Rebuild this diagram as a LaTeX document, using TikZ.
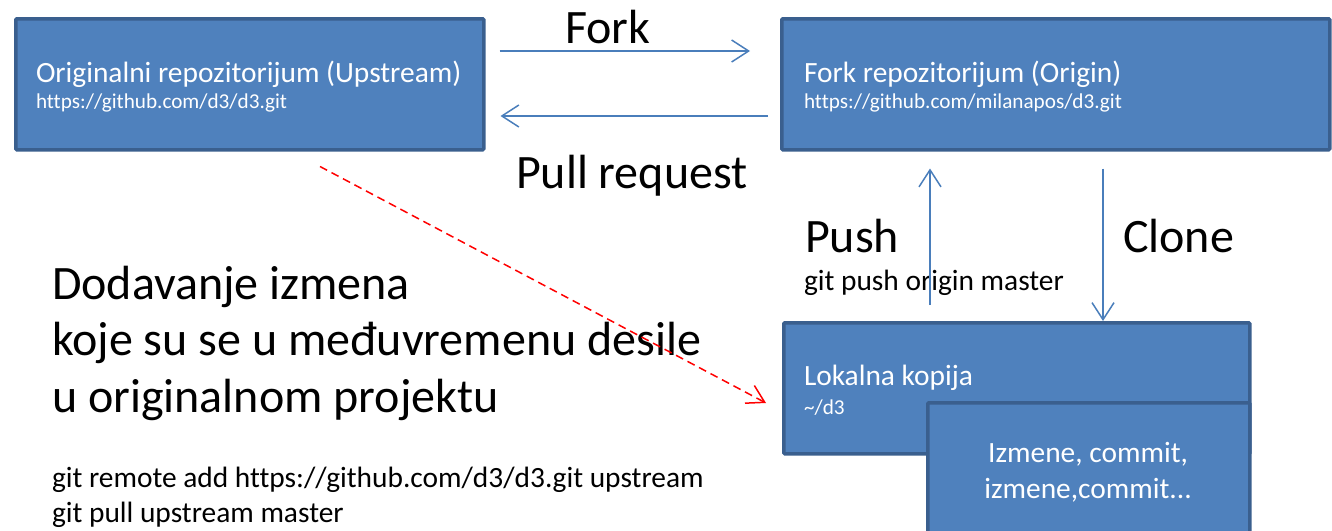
\documentclass[tikz,border=0pt]{standalone}
\usepackage{fontspec}
\setmainfont{Carlito}[Ligatures=NoCommon]
\usetikzlibrary{arrows.meta,calc}
\definecolor{boxfill}{HTML}{4F81BD}
\definecolor{boxline}{HTML}{3A5F8E}
\definecolor{arrblue}{HTML}{4A7EBB}
\tikzset{
  box/.style={draw=boxline, fill=boxfill, line width=3.5pt, rounded corners=1pt, rectangle, anchor=north west, inner sep=0pt},
  txt/.style={anchor=base west, inner sep=0pt, outer sep=0pt},
  wtxt/.style={txt, text=white},
  big/.style={font=\fontsize{48}{56}\selectfont},
  mid/.style={font=\fontsize{29.4}{36}\selectfont},
  small/.style={font=\fontsize{21.2}{25}\selectfont},
  arr/.style={draw=arrblue, line width=1.5pt, -{Straight Barb[length=17pt,width=22pt,line width=1.5pt]}},
  redarr/.style={draw=red, line width=1.5pt, dash pattern=on 8pt off 5pt, -{Straight Barb[length=17pt,width=20pt,line width=1.5pt]}}
}
\begin{document}
\begin{tikzpicture}[x=1pt,y=-1pt]
\useasboundingbox (0,0) rectangle (1332,530);
\clip (0,0) rectangle (1332,530);
% boxes
\node[box, minimum width=468pt, minimum height=131pt] (up) at (14,17) {};
\node[box, minimum width=548pt, minimum height=131pt] (org) at (780,17) {};
\node[box, minimum width=466pt, minimum height=131pt] (loc) at (782,321) {};
\node[box, minimum width=322pt, minimum height=150pt] (chg) at (926,401) {};
% box texts
\node[wtxt, mid] (uptitle) at (36,82) {Originalni repozitorijum (Upstream)};
\node[wtxt, small] (upurl) at (36,108) {https://github.com/d3/d3.git};
\node[wtxt, mid] (orgtitle) at (804,82) {Fork repozitorijum (Origin)};
\node[wtxt, small] (orgurl) at (804,108) {https://github.com/milanapos/d3.git};
\node[wtxt, mid] (loctitle) at (804,385) {Lokalna kopija};
\node[wtxt, small] (locpath) at (804,414) {\textasciitilde/d3};
\node[anchor=base, inner sep=0pt, text=white, mid] (chg1) at (1088,462) {Izmene, commit,};
\node[anchor=base, inner sep=0pt, text=white, mid] (chg2) at (1088,498) {izmene,commit...};
% labels
\node[txt, big] (fork) at (565,43) {Fork};
\node[txt, big] (pull) at (516,188) {Pull request};
\node[txt, big] (push) at (805,252) {Push};
\node[txt, mid] (pushcmd) at (804,290) {git push origin master};
\node[txt, big] (clone) at (1123,252) {Clone};
\node[txt, big] (d1) at (52,299) {Dodavanje izmena};
\node[txt, big] (d2) at (52,355) {koje su se u međuvremenu desile};
\node[txt, big] (d3) at (52,412) {u originalnom projektu};
\node[txt, mid] (g1) at (52,487) {git remote add https://github.com/d3/d3.git upstream};
\node[txt, mid] (g2) at (52,522) {git pull upstream master};
% connectors
\draw[arr] ($(up.north east)+(14,34)$) -- ($(org.north west)+(-30,34)$);
\draw[arr] ($(org.north west)+(-12,99)$) -- ($(up.north east)+(15,99)$);
\draw[arr] ($(loc.north west)+(148,-16)$) -- ($(org.south west)+(150,17)$);
\draw[arr] ($(org.south west)+(323,17)$) -- ($(loc.north west)+(321,0)$);
\draw[redarr] ($(up.south west)+(306,15)$) -- ($(loc.north west)+(-16,82)$);
\end{tikzpicture}
\end{document}
